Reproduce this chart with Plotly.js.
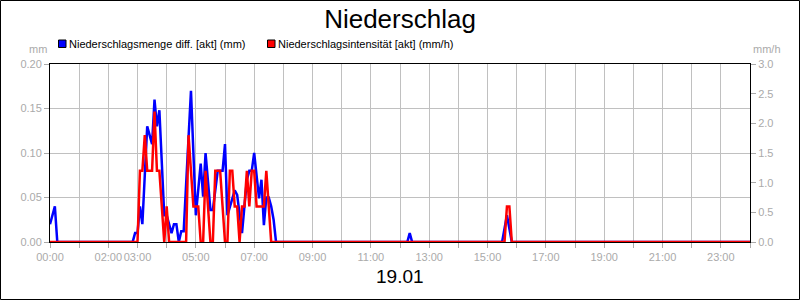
<!DOCTYPE html>
<html>
<head>
<meta charset="utf-8">
<script src="https://cdn.plot.ly/plotly-3.0.1.min.js"></script>
<style>
  html, body { margin: 0; padding: 0; background: #fff; }
  #chart { width: 800px; height: 300px; }
</style>
</head>
<body>
<div id="chart"></div>
<script>
// ---- Data ----
const chartTitle = "Niederschlag";
const dayLabel = "19.01";
const seriesNames = ["Niederschlagsmenge diff. [akt] (mm)", "Niederschlagsintensität [akt] (mm/h)"];

// Niederschlagsmenge diff. (mm)
const amountTimes = ["00:00","00:10","00:15","02:50","02:55","03:00","03:05","03:10","03:20","03:25",
  "03:30","03:35","03:40","03:45","03:55","04:00","04:10","04:15","04:20","04:25","04:30","04:35",
  "04:50","05:00","05:10","05:15","05:20","05:30","05:35","05:45","05:55","06:00","06:05","06:20",
  "06:25","06:35","06:45","06:50","06:55","07:00","07:10","07:15","07:20","07:25","07:30","07:35",
  "07:40","07:45","12:15","12:20","12:25","15:30","15:40","15:50","24:00"];
const amountValues = [0.02,0.04,0,0,0.01,0.01,0.04,0.02,0.13,0.12,
  0.11,0.16,0.13,0.148,0.03,0.03,0.01,0.02,0.02,0,0.012,0.012,
  0.17,0.03,0.088,0.051,0.1,0.036,0.036,0.08,0.08,0.11,0.03,0.058,
  0.053,0.01,0.07,0.08,0.08,0.1,0.049,0.07,0.019,0.05,0.05,0.04,
  0.025,0,0,0.01,0,0,0.03,0,0];

// Niederschlagsintensität (mm/h)
const intensityTimes = ["00:00","03:00","03:05","03:10","03:15","03:20","03:25","03:30","03:35","03:40",
  "03:45","03:50","03:55","04:00","04:05","04:40","04:45","04:50","04:55","05:00","05:05","05:10",
  "05:15","05:20","05:25","05:30","05:35","05:40","05:45","05:50","05:55","06:00","06:05","06:10",
  "06:15","06:20","06:25","06:30","06:35","06:40","06:45","06:50","06:55","07:00","07:05","07:10",
  "07:15","07:20","07:25","07:30","07:35","15:35","15:40","15:45","15:50","24:00"];
const intensityValues = [0,0,1.2,1.2,1.8,1.2,1.2,1.2,2.2,1.2,
  1.2,0.6,0,0.6,0,0,1.8,1.2,0.6,0.6,0.6,0,
  0,1.2,0.6,0,0,1.2,1.2,1.2,0.6,0,0,1.2,
  1.2,0.6,0.6,0,0.6,0.6,1.2,0.6,1.2,1.2,0.6,0.6,
  0.6,0.6,1.2,0.6,0,0,0.6,0.6,0,0];

// Axis ticks
const hourTicks = [0,1,2,3,4,5,6,7,8,9,10,11,12,13,14,15,16,17,18,19,20,21,22,23,24];
const hourLabels = ["00:00","","02:00","03:00","","05:00","","07:00","","09:00","","11:00","",
  "13:00","","15:00","","17:00","","19:00","","21:00","","23:00",""];
const leftUnit = "mm";
const rightUnit = "mm/h";

// ---- Helpers ----
function toHours(t) { const p = t.split(":"); return Number(p[0]) + Number(p[1]) / 60; }

const W = 800, H = 300, L = 50, R = 50, T = 64, B = 58;
const PW = W - L - R, PH = H - T - B;
const px = x => (x - L) / PW;          // pixel -> paper x
const py = y => (H - B - y) / PH;      // pixel -> paper y

const gray = "#aaaaaa";
const fontFam = "Liberation Sans, Arial, sans-serif";

const traces = [
  {
    x: intensityTimes.map(toHours), y: intensityValues, yaxis: "y2",
    type: "scatter", mode: "lines", name: seriesNames[1],
    line: { color: "#ff0000", width: 2.5 }, showlegend: false
  },
  {
    x: amountTimes.map(toHours), y: amountValues,
    type: "scatter", mode: "lines", name: seriesNames[0],
    line: { color: "#0000ff", width: 2.5 }, showlegend: false
  }
];

const layout = {
  width: W, height: H,
  margin: { l: L, r: R, t: T, b: B, pad: 0 },
  paper_bgcolor: "#ffffff", plot_bgcolor: "#ffffff",
  font: { family: fontFam, size: 11, color: gray },
  title: { text: chartTitle, font: { family: fontFam, size: 26, color: "#000" },
           x: 0.5, xanchor: "center", y: 1 - 19 / H, yanchor: "middle", yref: "container" },
  showlegend: false,
  xaxis: {
    range: [0, 24], tickmode: "array", tickvals: hourTicks, ticktext: hourLabels,
    tickangle: 0, automargin: false,
    showgrid: true, gridcolor: "#c0c0c0", gridwidth: 1,
    showline: true, linecolor: "#000", linewidth: 1, mirror: true,
    ticks: "outside", ticklen: 5, tickcolor: gray, tickfont: { size: 11, color: gray },
    zeroline: false, fixedrange: true
  },
  yaxis: {
    range: [0, 0.2], tickmode: "array", tickvals: [0, 0.05, 0.1, 0.15, 0.2],
    tickformat: ".2f", showgrid: true, gridcolor: "#c0c0c0", gridwidth: 1,
    showline: true, linecolor: "#000", linewidth: 1, mirror: true, automargin: false,
    ticks: "outside", ticklen: 5, tickcolor: gray, tickfont: { size: 11, color: gray },
    zeroline: false, fixedrange: true
  },
  yaxis2: {
    range: [0, 3], overlaying: "y", side: "right", automargin: false,
    tickmode: "array", tickvals: [0, 0.5, 1, 1.5, 2, 2.5, 3], tickformat: ".1f",
    showgrid: false, showline: true, linecolor: "#000", linewidth: 1,
    ticks: "outside", ticklen: 5, tickcolor: gray, tickfont: { size: 11, color: gray },
    zeroline: false, fixedrange: true
  },
  shapes: [
    { type: "rect", xref: "paper", yref: "paper",
      x0: px(0.5), x1: px(799.5), y0: py(299.5), y1: py(0.5),
      line: { color: "#000", width: 1 }, fillcolor: "rgba(0,0,0,0)", layer: "below" },
    { type: "rect", xref: "paper", yref: "paper",
      x0: px(58.5), x1: px(66), y0: py(47.5), y1: py(40),
      line: { color: "#000", width: 1 }, fillcolor: "#0000ff" },
    { type: "rect", xref: "paper", yref: "paper",
      x0: px(267.5), x1: px(275), y0: py(47.5), y1: py(40),
      line: { color: "#000", width: 1 }, fillcolor: "#ff0000" }
  ],
  annotations: [
    { text: seriesNames[0], xref: "paper", yref: "paper", x: px(67), y: py(44),
      xanchor: "left", yanchor: "middle", showarrow: false, font: { size: 11, color: "#000" } },
    { text: seriesNames[1], xref: "paper", yref: "paper", x: px(276), y: py(44),
      xanchor: "left", yanchor: "middle", showarrow: false, font: { size: 11, color: "#000" } },
    { text: leftUnit, xref: "paper", yref: "paper", x: px(49), y: py(49),
      xanchor: "right", yanchor: "middle", showarrow: false, font: { size: 11, color: gray } },
    { text: rightUnit, xref: "paper", yref: "paper", x: px(751), y: py(49),
      xanchor: "left", yanchor: "middle", showarrow: false, font: { size: 11, color: gray } },
    { text: dayLabel, xref: "paper", yref: "paper", x: 0.5, y: py(276),
      xanchor: "center", yanchor: "middle", showarrow: false, font: { size: 19, color: "#000" } }
  ]
};

Plotly.newPlot("chart", traces, layout, { displayModeBar: false, staticPlot: true });
</script>
</body>
</html>
